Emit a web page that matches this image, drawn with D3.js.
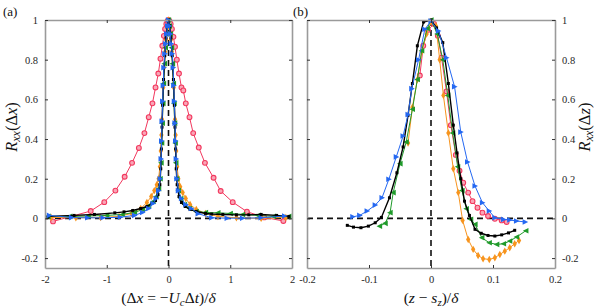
<!DOCTYPE html>
<html lang="en">
<head>
  <meta charset="UTF-8">
  <title>Correlation coefficients</title>
  <script src="https://d3js.org/d3.v7.min.js"></script>
  <style>
    body { margin: 0; background: #fff; }
    svg text { font-family: "Liberation Serif", "DejaVu Serif", serif !important; }
    .tick text { font-size: 10.5px; fill: #262626; }
  </style>
</head>
<body>
  <div id="chart"></div>

  <script>
    // tick labels
    const yTicks = [-0.2, 0, 0.2, 0.4, 0.6, 0.8, 1];
    const xTicksA = [-2, -1, 0, 1, 2];
    const xTicksB = [-0.2, -0.1, 0, 0.1, 0.2];

    // panel (a): streamwise correlation, [dx/delta, R]
    const redA = [[-1.87,-0.015],[-1.26,0.037],[-1.04,0.082],[-0.86,0.14],[-0.71,0.21],[-0.59,0.28],[-0.48,0.355],[-0.39,0.43],[-0.32,0.51],[-0.26,0.58],[-0.21,0.66],[-0.165,0.73],[-0.13,0.805],[-0.1,0.87],[-0.075,0.92],[-0.055,0.955],[-0.035,0.98],[-0.015,0.995],[0,1],
      [0.015,0.995],[0.035,0.98],[0.055,0.955],[0.08,0.915],[0.105,0.865],[0.135,0.8],[0.17,0.73],[0.21,0.66],[0.24,0.645],[0.28,0.58],[0.34,0.51],[0.4,0.43],[0.49,0.357],[0.59,0.28],[0.73,0.205],[0.845,0.138],[1.04,0.082],[1.27,0.034],[1.55,0.005],[1.86,-0.013]];
    const orangeA = [[-1.9,0.005],[-1.5,0.003],[-1.1,0.005],[-0.8,0.01],[-0.6,0.025],[-0.45,0.05],[-0.35,0.08],[-0.28,0.11],[-0.23,0.14],[-0.19,0.17],[-0.16,0.2],[-0.14,0.26],[-0.125,0.34],[-0.115,0.42],[-0.105,0.5],[-0.095,0.58],[-0.085,0.66],[-0.07,0.76],[-0.055,0.84],[-0.04,0.9],[-0.02,0.96],[0,1],
      [0.02,0.96],[0.04,0.9],[0.055,0.84],[0.07,0.76],[0.085,0.66],[0.095,0.58],[0.105,0.5],[0.115,0.42],[0.125,0.34],[0.14,0.26],[0.16,0.2],[0.19,0.16],[0.23,0.13],[0.28,0.1],[0.35,0.07],[0.45,0.045],[0.6,0.025],[0.8,0.01],[1.1,0.003],[1.5,0.0],[1.9,0.005]];
    const greenA = [[-1.95,0.01],[-1.6,0.01],[-1.3,0.012],[-1.0,0.015],[-0.75,0.02],[-0.55,0.03],[-0.42,0.045],[-0.32,0.065],[-0.25,0.085],[-0.2,0.11],[-0.16,0.15],[-0.135,0.2],[-0.12,0.28],[-0.11,0.38],[-0.1,0.48],[-0.09,0.58],[-0.08,0.68],[-0.065,0.78],[-0.05,0.86],[-0.03,0.93],[-0.015,0.97],[0,1],
      [0.015,0.97],[0.03,0.93],[0.05,0.86],[0.065,0.78],[0.08,0.68],[0.09,0.58],[0.1,0.48],[0.11,0.38],[0.12,0.28],[0.135,0.2],[0.16,0.14],[0.2,0.1],[0.26,0.07],[0.34,0.05],[0.45,0.035],[0.6,0.03],[0.8,0.028],[1.0,0.025],[1.2,0.02],[1.45,0.015],[1.7,0.01],[1.95,0.01]];
    const blackA = [[-1.95,0.01],[-1.53,0.015],[-1.2,0.02],[-0.87,0.028],[-0.72,0.033],[-0.58,0.04],[-0.45,0.05],[-0.35,0.06],[-0.27,0.075],[-0.21,0.09],[-0.17,0.12],[-0.14,0.17],[-0.125,0.25],[-0.115,0.35],[-0.105,0.46],[-0.095,0.57],[-0.08,0.7],[-0.06,0.82],[-0.04,0.91],[-0.02,0.97],[0,1],
      [0.02,0.97],[0.04,0.91],[0.06,0.82],[0.08,0.7],[0.095,0.57],[0.105,0.46],[0.115,0.35],[0.125,0.25],[0.14,0.17],[0.17,0.11],[0.21,0.08],[0.27,0.06],[0.35,0.045],[0.45,0.035],[0.6,0.025],[0.7,0.022],[0.88,0.02],[1.1,0.018],[1.3,0.018],[1.5,0.02],[1.75,0.015],[1.95,0.01]];
    const blueA = [[-1.93,0.015],[-1.57,0.004],[-1.31,0.003],[-1.06,0.003],[-0.78,0.006],[-0.55,0.015],[-0.42,0.03],[-0.32,0.05],[-0.25,0.075],[-0.2,0.1],[-0.16,0.14],[-0.135,0.2],[-0.12,0.3],[-0.112,0.39],[-0.105,0.49],[-0.095,0.59],[-0.085,0.67],[-0.075,0.76],[-0.06,0.83],[-0.045,0.88],[-0.03,0.93],[-0.015,0.97],[0,1],
      [0.015,0.97],[0.03,0.93],[0.045,0.88],[0.06,0.83],[0.075,0.76],[0.085,0.67],[0.095,0.59],[0.105,0.48],[0.115,0.39],[0.125,0.3],[0.135,0.2],[0.16,0.14],[0.21,0.1],[0.28,0.07],[0.37,0.05],[0.48,0.024],[0.7,0.003],[0.95,0.001],[1.2,0.001],[1.5,0.003],[1.88,0.012]];

    // panel (b): spanwise correlation, [(z - s_z)/delta, R]
    const redB = [[-0.018,0.72],[-0.0125,0.87],[-0.005,0.95],[0.005,0.98],[0.011,0.92],[0.017,0.81],[0.025,0.64],[0.032,0.47],[0.04,0.32],[0.046,0.24],[0.052,0.18],[0.06,0.13],[0.067,0.087],[0.075,0.054],[0.083,0.029],[0.092,0.012],[0.103,-0.002],[0.114,-0.01],[0.122,-0.018]];
    const orangeB = [[-0.037,0.38],[-0.03,0.56],[-0.022,0.7],[-0.015,0.84],[-0.007,0.93],[0,0.99],[0.008,0.97],[0.014,0.8],[0.02,0.62],[0.028,0.43],[0.036,0.25],[0.044,0.13],[0.051,-0.01],[0.06,-0.106],[0.068,-0.156],[0.076,-0.187],[0.084,-0.203],[0.094,-0.207],[0.103,-0.198],[0.111,-0.182],[0.119,-0.165],[0.127,-0.148],[0.135,-0.128],[0.142,-0.111]];
    const greenB = [[-0.083,-0.039],[-0.074,-0.025],[-0.066,0.029],[-0.061,0.13],[-0.05,0.276],[-0.04,0.385],[-0.03,0.55],[-0.022,0.7],[-0.015,0.845],[-0.006,0.957],[0,1],[0.01,0.93],[0.019,0.8],[0.027,0.62],[0.035,0.43],[0.043,0.26],[0.05,0.14],[0.057,0.049],[0.064,-0.005],[0.071,-0.03],[0.082,-0.097],[0.094,-0.123],[0.106,-0.131],[0.117,-0.128],[0.127,-0.114],[0.138,-0.094],[0.153,-0.062]];
    const blackB = [[-0.135,-0.035],[-0.125,-0.044],[-0.113,-0.047],[-0.101,-0.039],[-0.09,-0.022],[-0.08,0.005],[-0.067,0.104],[-0.055,0.23],[-0.045,0.36],[-0.037,0.52],[-0.03,0.68],[-0.022,0.87],[-0.012,0.99],[0,1],[0.009,0.96],[0.019,0.886],[0.028,0.68],[0.036,0.47],[0.042,0.33],[0.048,0.2],[0.054,0.087],[0.062,0.015],[0.071,-0.055],[0.081,-0.075],[0.092,-0.086],[0.103,-0.089],[0.114,-0.083],[0.125,-0.073],[0.135,-0.06]];
    const blueB = [[-0.126,0.008],[-0.115,0.015],[-0.103,0.037],[-0.09,0.067],[-0.079,0.104],[-0.068,0.197],[-0.056,0.31],[-0.045,0.415],[-0.037,0.524],[-0.031,0.654],[-0.02,0.8],[-0.01,0.953],[0,0.995],[0.012,0.945],[0.025,0.81],[0.038,0.664],[0.048,0.435],[0.059,0.284],[0.071,0.163],[0.083,0.079],[0.094,0.037],[0.103,0.003],[0.117,-0.005],[0.127,-0.008],[0.138,-0.013],[0.152,-0.018]];

    const W = 600, H = 307;
    const svg = d3.select("#chart").append("svg")
                  .attr("width", W)
                  .attr("height", H);

    const yScale = d3.scaleLinear().domain([-0.25, 1]).range([268, 20]);

    const triRight = "M-2.6,-2.8L3,0L-2.6,2.8Z";
    const triLeft = "M2.6,-2.8L-3,0L2.6,2.8Z";

    const styles = [
      { color: "#f2385e", width: 1,   marker: "circle" },
      { color: "#f7941d", width: 1,   marker: "diamond" },
      { color: "#1f9a2a", width: 1,   marker: "left" },
      { color: "#000000", width: 1.4, marker: "square" },
      { color: "#2468f2", width: 1,   marker: "right" }
    ];

    function drawMarker(g, m, st) {
      let p;
      if (st.marker === "circle") {
        g.append("circle").attr("cx", m[0]).attr("cy", m[1]).attr("r", 2.4)
         .attr("fill", "#f9a5b6").attr("stroke", st.color).attr("stroke-width", 1.1);
        return;
      }
      if (st.marker === "diamond") p = d3.symbol(d3.symbolDiamond, 16)();
      if (st.marker === "square") p = d3.symbol(d3.symbolSquare, 9)();
      if (st.marker === "left") p = triLeft;
      if (st.marker === "right") p = triRight;
      g.append("path").attr("d", p)
       .attr("transform", `translate(${m[0]},${m[1]})`)
       .attr("fill", st.color);
    }

    function panel(cfg) {
      const x = d3.scaleLinear().domain(cfg.xDomain).range([cfg.left, cfg.right]);
      const g = svg.append("g");
      const top = 20, bottom = 268;

      // reference dashed lines
      g.append("line").attr("x1", cfg.left).attr("x2", cfg.right)
       .attr("y1", yScale(0)).attr("y2", yScale(0))
       .attr("stroke", "#111").attr("stroke-width", 1.6).attr("stroke-dasharray", "6,4");
      g.append("line").attr("x1", x(0)).attr("x2", x(0))
       .attr("y1", top).attr("y2", bottom)
       .attr("stroke", "#111").attr("stroke-width", 1.6).attr("stroke-dasharray", "6,4");

      const line = d3.line().x(d => x(d[0])).y(d => yScale(d[1]));
      cfg.series.forEach((data, i) => {
        const st = styles[i];
        g.append("path").datum(data)
         .attr("fill", "none")
         .attr("stroke", st.color)
         .attr("stroke-width", st.width)
         .attr("d", line);
        const mg = g.append("g");
        data.forEach(d => drawMarker(mg, [x(d[0]), yScale(d[1])], st));
      });

      // axes, ticks inside on all four sides
      const axX = d3.axisBottom(x).tickValues(cfg.xTicks).tickSizeInner(-3).tickSizeOuter(0).tickPadding(8).tickFormat(String);
      const axXTop = d3.axisTop(x).tickValues(cfg.xTicks).tickSizeInner(-3).tickSizeOuter(0).tickFormat("");
      const axYL = d3.axisLeft(yScale).tickValues(yTicks).tickSizeInner(-3).tickSizeOuter(0).tickPadding(7)
                     .tickFormat(cfg.yRight ? "" : String);
      const axYR = d3.axisRight(yScale).tickValues(yTicks).tickSizeInner(-3).tickSizeOuter(0).tickPadding(7)
                     .tickFormat(cfg.yRight ? String : "");

      const gx = g.append("g").attr("transform", `translate(0,${bottom})`).call(axX);
      const gxt = g.append("g").attr("transform", `translate(0,${top})`).call(axXTop);
      const gyl = g.append("g").attr("transform", `translate(${cfg.left},0)`).call(axYL);
      const gyr = g.append("g").attr("transform", `translate(${cfg.right},0)`).call(axYR);
      [gx, gxt, gyl, gyr].forEach(a => {
        a.attr("font-family", null).attr("font-size", null);
        a.select(".domain").attr("stroke", "#9a9a9a").attr("stroke-width", 1.6);
        a.selectAll(".tick line").attr("stroke", "#333");
      });

      // x title
      const xt = svg.append("text").attr("x", (cfg.left + cfg.right) / 2).attr("y", 303)
                    .attr("text-anchor", "middle").attr("font-size", 15.5).attr("fill", "#111");
      cfg.xTitle(xt);

      // y title
      const yt = svg.append("text")
                    .attr("transform", `translate(${cfg.yTitleX},127) rotate(-90)`)
                    .attr("text-anchor", "middle").attr("font-size", 16.5).attr("fill", "#111");
      yt.append("tspan").attr("font-style", "italic").text("R");
      yt.append("tspan").attr("font-style", "italic").attr("font-size", 12).attr("dy", 3).text("xx");
      yt.append("tspan").attr("dy", -3).text("(Δ");
      yt.append("tspan").attr("font-style", "italic").text(cfg.yVar);
      yt.append("tspan").text(")");

      svg.append("text").attr("x", cfg.tagX).attr("y", 16).attr("font-size", 13)
         .attr("fill", "#111").text(cfg.tag);
    }

    panel({
      left: 45, right: 292, xDomain: [-2, 2], xTicks: xTicksA, yRight: false,
      series: [redA, orangeA, greenA, blackA, blueA],
      yTitleX: 17, yVar: "x", tag: "(a)", tagX: 3,
      xTitle: t => {
        t.append("tspan").text("(Δ");
        t.append("tspan").attr("font-style", "italic").text("x");
        t.append("tspan").text(" = −");
        t.append("tspan").attr("font-style", "italic").text("U");
        t.append("tspan").attr("font-style", "italic").attr("font-size", 11).attr("dy", 3).text("c");
        t.append("tspan").attr("dy", -3).text("Δ");
        t.append("tspan").attr("font-style", "italic").text("t");
        t.append("tspan").text(")/");
        t.append("tspan").attr("font-style", "italic").text("δ");
      }
    });

    panel({
      left: 307, right: 555, xDomain: [-0.2, 0.2], xTicks: xTicksB, yRight: true,
      series: [redB, orangeB, greenB, blackB, blueB],
      yTitleX: 590, yVar: "z", tag: "(b)", tagX: 293,
      xTitle: t => {
        t.append("tspan").text("(");
        t.append("tspan").attr("font-style", "italic").text("z");
        t.append("tspan").text(" − ");
        t.append("tspan").attr("font-style", "italic").text("s");
        t.append("tspan").attr("font-style", "italic").attr("font-size", 11).attr("dy", 3).text("z");
        t.append("tspan").attr("dy", -3).text(")/");
        t.append("tspan").attr("font-style", "italic").text("δ");
      }
    });
  </script>
</body>
</html>
